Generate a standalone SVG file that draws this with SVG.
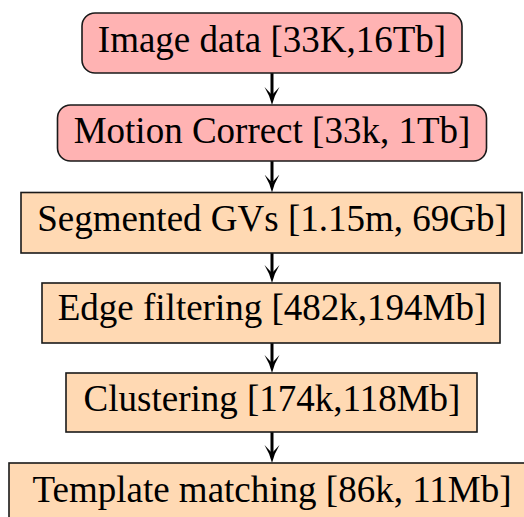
<svg xmlns="http://www.w3.org/2000/svg" width="524" height="517" viewBox="0 0 524 517">
<style>
.pink{fill:#FFB3B3;stroke:#1a1a1a;stroke-width:1.6}
.peach{fill:#FFD9B3;stroke:#1a1a1a;stroke-width:1.6}
text{font-family:"Liberation Serif","Times New Roman",serif;font-size:37px;fill:#000;text-anchor:middle}
.conn{stroke:#000;stroke-width:3;fill:none;marker-end:url(#ah)}
</style>
<defs>
<marker id="ah" markerUnits="userSpaceOnUse" markerWidth="20" markerHeight="18" viewBox="0 -9 20 18" refX="8" refY="0" orient="auto">
<path d="M18,0 Q9,-2 0,-7.5 L8,0 L0,7.5 Q9,2 18,0 Z" fill="#000"/>
</marker>
</defs>
<g id="connectors">
<line class="conn" x1="272" y1="73" x2="272" y2="95"/>
<line class="conn" x1="272" y1="161" x2="272" y2="182.5"/>
<line class="conn" x1="272" y1="253" x2="272" y2="273"/>
<line class="conn" x1="272" y1="343" x2="272" y2="363"/>
<line class="conn" x1="272" y1="432" x2="272" y2="453"/>
</g>
<g id="image-data">
<rect class="pink" x="82" y="13" width="380" height="60" rx="13"/>
<text x="272" y="52">Image data [33K,16Tb]</text>
</g>
<g id="motion-correct">
<rect class="pink" x="57.5" y="105" width="429" height="56" rx="13"/>
<text x="272" y="143">Motion Correct [33k, 1Tb]</text>
</g>
<g id="segmented-gvs">
<rect class="peach" x="21" y="192.5" width="501" height="60.5"/>
<text x="272" y="231">Segmented GVs [1.15m, 69Gb]</text>
</g>
<g id="edge-filtering">
<rect class="peach" x="42" y="283" width="458" height="60"/>
<text x="272" y="320">Edge filtering [482k,194Mb]</text>
</g>
<g id="clustering">
<rect class="peach" x="66" y="373" width="411" height="59"/>
<text x="272" y="411">Clustering [174k,118Mb]</text>
</g>
<g id="template-matching">
<rect class="peach" x="9" y="463" width="526" height="60"/>
<text x="272" y="502">Template matching [86k, 11Mb]</text>
</g>
</svg>
